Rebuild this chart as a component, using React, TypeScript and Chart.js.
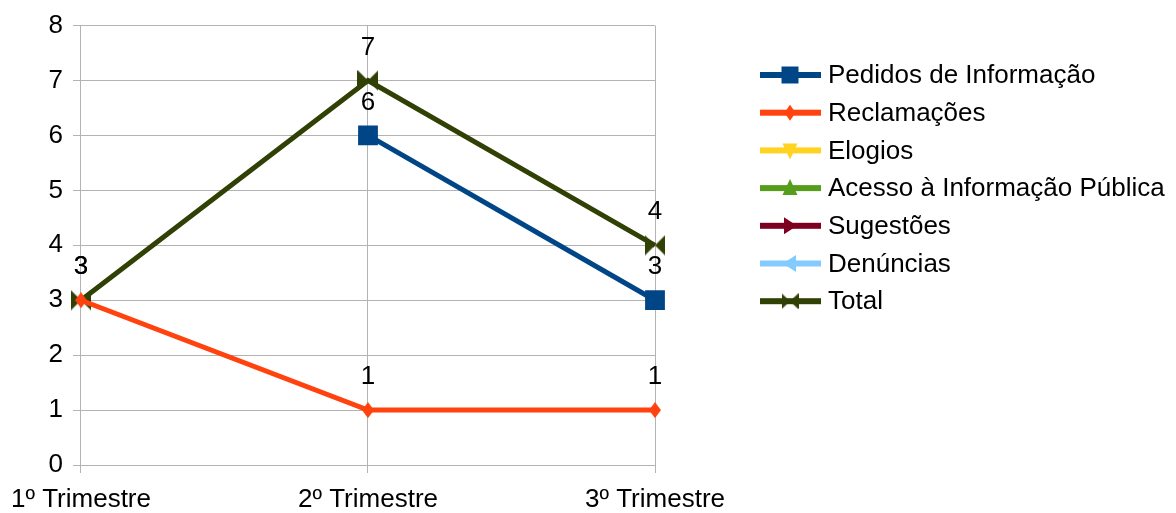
import React, { useEffect, useRef } from "react";
import { Chart, registerables } from "chart.js";

Chart.register(...registerables);

const categories = ["1º Trimestre", "2º Trimestre", "3º Trimestre"];
const pedidos = [null, 6, 3];
const reclamacoes = [3, 1, 1];
const elogios = [null, null, null];
const acesso = [null, null, null];
const sugestoes = [null, null, null];
const denuncias = [null, null, null];
const total = [3, 7, 4];

const seriesNames = [
  "Pedidos de Informação",
  "Reclamações",
  "Elogios",
  "Acesso à Informação Pública",
  "Sugestões",
  "Denúncias",
  "Total",
];
const seriesColors = ["#004586", "#ff420e", "#ffd320", "#579d1c", "#7e0021", "#83caff", "#314004"];
const FONT = "'Liberation Sans', Arial, sans-serif";

function makeBowTie(color: string, w: number, h: number) {
  const c = document.createElement("canvas");
  c.width = w;
  c.height = h;
  const ctx = c.getContext("2d")!;
  ctx.fillStyle = color;
  ctx.beginPath();
  ctx.moveTo(0, 0);
  ctx.lineTo(w / 2, h / 2);
  ctx.lineTo(0, h);
  ctx.closePath();
  ctx.fill();
  ctx.beginPath();
  ctx.moveTo(w, 0);
  ctx.lineTo(w / 2, h / 2);
  ctx.lineTo(w, h);
  ctx.closePath();
  ctx.fill();
  return c;
}

function makeDiamond(color: string, w: number, h: number) {
  const c = document.createElement("canvas");
  c.width = w;
  c.height = h;
  const ctx = c.getContext("2d")!;
  ctx.fillStyle = color;
  ctx.beginPath();
  ctx.moveTo(w / 2, 0);
  ctx.lineTo(w, h / 2);
  ctx.lineTo(w / 2, h);
  ctx.lineTo(0, h / 2);
  ctx.closePath();
  ctx.fill();
  return c;
}

function drawMarker(ctx: CanvasRenderingContext2D, kind: number, x: number, y: number, color: string, bow: HTMLCanvasElement) {
  ctx.save();
  ctx.fillStyle = color;
  ctx.beginPath();
  switch (kind) {
    case 0:
      ctx.rect(x - 8.5, y - 8.5, 17, 17);
      break;
    case 1:
      ctx.moveTo(x, y - 8);
      ctx.lineTo(x + 5.5, y);
      ctx.lineTo(x, y + 8);
      ctx.lineTo(x - 5.5, y);
      break;
    case 2:
      ctx.moveTo(x - 7.5, y - 7);
      ctx.lineTo(x + 7.5, y - 7);
      ctx.lineTo(x, y + 9);
      break;
    case 3:
      ctx.moveTo(x - 7.5, y + 7);
      ctx.lineTo(x + 7.5, y + 7);
      ctx.lineTo(x, y - 9);
      break;
    case 4:
      ctx.moveTo(x - 6, y - 8.5);
      ctx.lineTo(x + 7, y);
      ctx.lineTo(x - 6, y + 8.5);
      break;
    case 5:
      ctx.moveTo(x + 6, y - 8.5);
      ctx.lineTo(x - 7, y);
      ctx.lineTo(x + 6, y + 8.5);
      break;
    case 6:
      ctx.drawImage(bow, x - 8.5, y - 8, 17, 16);
      break;
  }
  ctx.closePath();
  if (kind !== 6) ctx.fill();
  ctx.restore();
}

export default function App() {
  const ref = useRef<HTMLCanvasElement>(null);
  useEffect(() => {
    const bow = makeBowTie(seriesColors[6], 21, 21);
    const bowLegend = makeBowTie(seriesColors[6], 17, 16);
    const diamond = makeDiamond(seriesColors[1], 12, 16);
    const values = [pedidos, reclamacoes, elogios, acesso, sugestoes, denuncias, total];
    const styles: any[] = ["rect", diamond, "triangle", "triangle", "triangle", "triangle", bow];
    const rotations = [0, 0, 180, 0, 90, -90, 0];
    const radii = [14, 9, 9, 9, 9, 9, 10];

    const datasets = values.map((v, i) => ({
      label: seriesNames[i],
      data: v,
      borderColor: seriesColors[i],
      backgroundColor: seriesColors[i],
      borderWidth: 5,
      pointStyle: styles[i],
      pointRotation: rotations[i],
      pointRadius: radii[i],
      pointBorderWidth: 0,
      pointBackgroundColor: seriesColors[i],
      pointBorderColor: seriesColors[i],
      tension: 0,
      spanGaps: false,
    }));

    const labelsPlugin = {
      id: "valueLabels",
      afterDatasetsDraw(chart: any) {
        const ctx = chart.ctx;
        ctx.save();
        ctx.font = `26px ${FONT}`;
        ctx.fillStyle = "#000";
        ctx.textAlign = "center";
        ctx.textBaseline = "middle";
        chart.data.datasets.forEach((ds: any, di: number) => {
          const meta = chart.getDatasetMeta(di);
          meta.data.forEach((pt: any, pi: number) => {
            const v = ds.data[pi];
            if (v === null || v === undefined) return;
            ctx.fillText(String(v), pt.x, pt.y - 33);
          });
        });
        ctx.restore();
      },
    };

    const legendPlugin = {
      id: "sideLegend",
      afterDraw(chart: any) {
        const ctx = chart.ctx;
        ctx.save();
        ctx.font = `26px ${FONT}`;
        ctx.textBaseline = "middle";
        ctx.textAlign = "left";
        const x0 = 760;
        const y0 = 75;
        const dy = 37.7;
        seriesNames.forEach((name, i) => {
          const y = y0 + i * dy;
          ctx.fillStyle = seriesColors[i];
          ctx.fillRect(x0, y - 3, 61, 6);
          drawMarker(ctx, i, x0 + 30, y, seriesColors[i], bowLegend);
          ctx.fillStyle = "#000";
          ctx.fillText(name, x0 + 68, y + 1);
        });
        ctx.restore();
      },
    };

    const chart = new Chart(ref.current!, {
      type: "line",
      data: { labels: categories, datasets },
      options: {
        animation: false,
        responsive: false,
        maintainAspectRatio: false,
        layout: { padding: { top: 25, right: 521, left: 0, bottom: 0 } },
        plugins: {
          legend: { display: false },
          tooltip: { enabled: false },
        },
        scales: {
          x: {
            offset: false,
            grid: { color: "#b3b3b3", offset: false, tickLength: 8, lineWidth: 1 },
            border: { color: "#b3b3b3" },
            ticks: { color: "#000", font: { family: FONT, size: 26 }, padding: 11, maxRotation: 0 },
            afterFit: (s: any) => {
              s.height = 48;
            },
          },
          y: {
            min: 0,
            max: 8,
            grid: { color: "#b3b3b3", tickLength: 8 },
            border: { color: "#b3b3b3" },
            ticks: { stepSize: 1, color: "#000", font: { family: FONT, size: 26 }, padding: 10 },
            afterFit: (s: any) => {
              s.width = 80;
            },
          },
        },
      },
      plugins: [labelsPlugin, legendPlugin],
    } as any);
    return () => chart.destroy();
  }, []);
  return (
    <div style={{ position: "fixed", left: 0, top: 0, width: 1176, height: 513, background: "#fff" }}>
      <canvas ref={ref} width={1176} height={513} style={{ width: 1176, height: 513, display: "block" }} />
    </div>
  );
}
